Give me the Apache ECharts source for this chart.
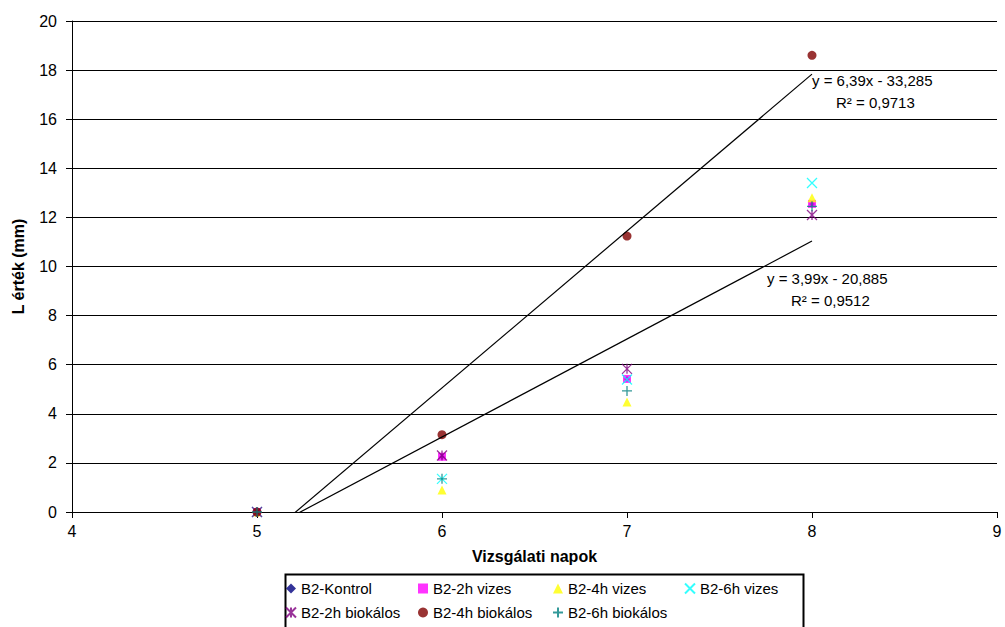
<!DOCTYPE html>
<html>
<head>
<meta charset="utf-8">
<script src="https://cdn.jsdelivr.net/npm/echarts@6/dist/echarts.min.js"></script>
<style>
  html, body { margin: 0; padding: 0; background: #fff; }
  #chart { width: 1005px; height: 627px; }
</style>
</head>
<body>
<div id="chart"></div>
<script>
(function() {
  var days = [5, 6, 7, 8];
  var kontrol = [0, 2.25, 5.42, 12.55];
  var vizes2h = [0, 2.25, 5.42, 12.55];
  var vizes4h = [0, 0.9, 4.48, 12.8];
  var vizes6h = [0, 1.35, 5.4, 13.4];
  var bio2h = [0, 2.3, 5.83, 12.1];
  var bio4h = [0, 3.15, 11.24, 18.6];
  var bio6h = [0, 1.35, 4.93, 12.45];

  // trendline end points (from the equations shown)
  var trendA = [[5, -1.335], [8, 17.835]];
  var trendB = [[5, -0.935], [8, 11.035]];

  // legend columns, as laid out in the original
  var legendCols = [
    ['B2-Kontrol', 'B2-2h biokálos'],
    ['B2-2h vizes', 'B2-4h biokálos'],
    ['B2-4h vizes', 'B2-6h biokálos'],
    ['B2-6h vizes']
  ];
  var legendLefts = [285, 418, 552, 684];

  var font = 'Liberation Sans, Arial, sans-serif';

  function pts(vals) {
    return days.map(function(d, i) { return [d, vals[i]]; });
  }

  var xPath = 'path://M0,0L10,10M10,0L0,10';
  var starPath = 'path://M0,0L10,10M10,0L0,10M5,0L5,10';
  var plusPath = 'path://M5,0L5,10M0,5L10,5';

  function filled(name, vals, symbol, size, color) {
    return {
      name: name, type: 'scatter', data: pts(vals),
      symbol: symbol, symbolSize: size,
      itemStyle: { color: color }
    };
  }
  function stroked(name, vals, symbol, size, color) {
    return {
      name: name, type: 'scatter', data: pts(vals),
      symbol: symbol, symbolSize: size,
      itemStyle: { color: 'rgba(0,0,0,0)', borderColor: color, borderWidth: 1.3 }
    };
  }
  function trend(data) {
    return {
      type: 'line', data: data, symbol: 'none', silent: true,
      lineStyle: { color: '#000', width: 1.2 }, clip: true
    };
  }

  var legends = legendCols.map(function(col, i) {
    return {
      orient: 'vertical', left: legendLefts[i], top: 581, itemGap: 9,
      itemWidth: 10, itemHeight: 10, padding: 0,
      textStyle: { color: '#000', fontSize: 15, fontFamily: font },
      data: col
    };
  });

  var noteFont = '15px ' + font;

  var chart = echarts.init(document.getElementById('chart'), null, { renderer: 'svg' });
  chart.setOption({
    animation: false,
    textStyle: { fontFamily: font },
    grid: { left: 72, right: 8, top: 21, bottom: 115 },
    xAxis: {
      type: 'value', min: 4, max: 9, interval: 1,
      name: 'Vizsgálati napok', nameLocation: 'middle', nameGap: 36,
      nameTextStyle: { color: '#000', fontSize: 16, fontWeight: 'bold', fontFamily: font },
      axisLine: { lineStyle: { color: '#000', width: 1 } },
      axisTick: { show: true, length: 6, lineStyle: { color: '#000' } },
      axisLabel: { color: '#000', fontSize: 16, fontFamily: font, margin: 11 },
      splitLine: { show: false }
    },
    yAxis: {
      type: 'value', min: 0, max: 20, interval: 2,
      name: 'L érték (mm)', nameLocation: 'middle', nameGap: 46,
      nameTextStyle: { color: '#000', fontSize: 16, fontWeight: 'bold', fontFamily: font },
      axisLine: { show: true, lineStyle: { color: '#000', width: 1 } },
      axisTick: { show: true, length: 6, lineStyle: { color: '#000' } },
      axisLabel: { color: '#000', fontSize: 16, fontFamily: font, margin: 15 },
      splitLine: { lineStyle: { color: '#000', width: 1 } }
    },
    legend: legends,
    graphic: [
      { type: 'rect', left: 283, top: 572, shape: { width: 518, height: 60 },
        style: { fill: 'none', stroke: '#000', lineWidth: 2 } },
      { type: 'text', left: 812, top: 73, style: { text: 'y = 6,39x - 33,285', fill: '#000', font: noteFont } },
      { type: 'text', left: 836, top: 95, style: { text: 'R² = 0,9713', fill: '#000', font: noteFont } },
      { type: 'text', left: 767, top: 271, style: { text: 'y = 3,99x - 20,885', fill: '#000', font: noteFont } },
      { type: 'text', left: 791, top: 293, style: { text: 'R² = 0,9512', fill: '#000', font: noteFont } }
    ],
    series: [
      trend(trendA),
      trend(trendB),
      filled('B2-Kontrol', kontrol, 'diamond', 6, '#000080'),
      filled('B2-2h vizes', vizes2h, 'rect', 8, '#FF00FF'),
      filled('B2-4h vizes', vizes4h, 'triangle', 9, '#FFFF00'),
      stroked('B2-6h vizes', vizes6h, xPath, 10, '#00FFFF'),
      stroked('B2-2h biokálos', bio2h, starPath, 10, '#800080'),
      filled('B2-4h biokálos', bio4h, 'circle', 9, '#800000'),
      stroked('B2-6h biokálos', bio6h, plusPath, 10, '#008080')
    ]
  });
  window.addEventListener('resize', function() { chart.resize(); });
})();
</script>
</body>
</html>
